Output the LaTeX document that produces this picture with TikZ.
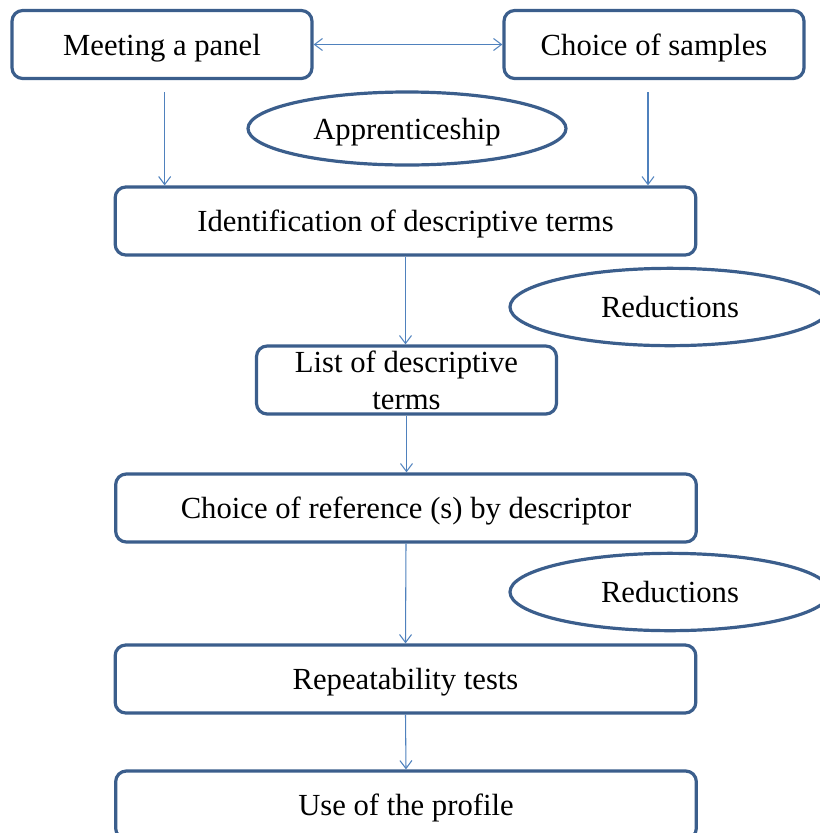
\documentclass[tikz,border=0pt]{standalone}
\usepackage{fontspec}
\setmainfont{Liberation Serif}
\usetikzlibrary{arrows.meta, positioning}
\usetikzlibrary{shapes.geometric}
\definecolor{boxblue}{RGB}{59,94,140}
\definecolor{linkblue}{RGB}{79,129,189}

\begin{document}
\begin{tikzpicture}[
    x=0.75pt, y=-0.75pt, % picture measured in reference pixels
    every node/.style={align=center, font=\fontsize{23}{27.6}\selectfont, text height=16pt, text depth=0pt},
    process/.style={draw=boxblue, line width=2.4pt, rounded corners=8pt, minimum height=51pt, inner sep=0pt},
    shortbox/.style={process, minimum width=225pt},
    widebox/.style={process, minimum width=435.5pt},
    remark/.style={ellipse, draw=boxblue, line width=2.4pt, inner sep=0pt, minimum width=240pt, minimum height=58pt},
    line/.style={draw=linkblue, line width=0.8pt, -{Straight Barb[length=6pt, width=9pt]}},
    twoway/.style={line, {Straight Barb[length=6pt, width=9pt]}-{Straight Barb[length=6pt, width=9pt]}}
]
\useasboundingbox (0,0) rectangle (820,833);

% Top row
\node[shortbox] (panel) at (162,44.5) {Meeting a panel};
\node[shortbox] (samples) at (654,44.5) {Choice of samples};

% Apprenticeship between the two
\node[remark, minimum width=238.5pt, minimum height=54.75pt] (learn) at (407,128.5) {Apprenticeship};

% Main column
\node[widebox] (ident) at (405.5,221) {Identification of descriptive terms};
\node[shortbox, text height={}, text depth={}] (list) at (406.5,380) {List of descriptive\\terms}; % two lines, natural height
\node[widebox] (reference) at (406,508) {Choice of reference (s) by descriptor};
\node[widebox] (repeat) at (405.5,679) {Repeatability tests};
\node[widebox] (profile) at (406,805) {Use of the profile};

% Reductions on the right
\node[remark] (reduce1) at (670,307) {Reductions};
\node[remark] (reduce2) at (670,592) {Reductions};

% Arrows
\path[twoway] (panel.east) -- (samples.west);
\path[line] ([xshift=2pt, yshift=-9pt]panel.south) -- ([xshift=2pt]panel.south |- ident.north);
\path[line] ([xshift=-4.5pt, yshift=-9pt]samples.south) -- ([xshift=-4.5pt]samples.south |- ident.north);
\path[line] (ident.south) -- (ident.south |- list.north);
\path[line] (list.south) -- (list.south |- reference.north);
\path[line] (reference.south) -- (repeat.north);
\path[line] (repeat.south) -- (profile.north);

\end{tikzpicture}
\end{document}
